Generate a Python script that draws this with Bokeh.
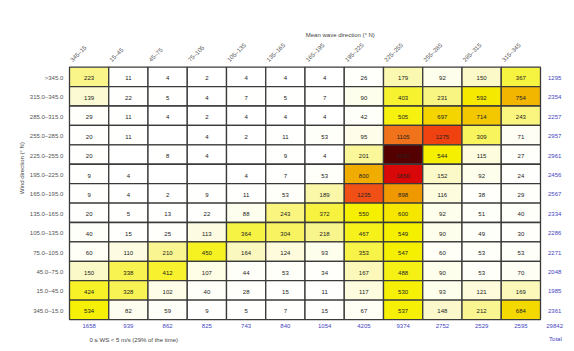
import numpy as np
from bokeh.plotting import figure
from bokeh.models import ColumnDataSource, Range1d, LinearColorMapper
from bokeh.transform import transform
from bokeh.core.properties import value
from bokeh.embed import file_html
from bokeh.resources import INLINE

# ---- data ----
wave_dirs = ["345\u201315", "15\u201345", "45\u201375", "75\u2013105", "105\u2013135", "135\u2013165",
             "165\u2013195", "195\u2013225", "225\u2013255", "255\u2013285", "285\u2013315", "315\u2013345"]
wind_dirs = [">345.0", "315.0\u2013345.0", "285.0\u2013315.0", "255.0\u2013285.0", "225.0\u2013255.0",
             "195.0\u2013225.0", "165.0\u2013195.0", "135.0\u2013165.0", "105.0\u2013135.0",
             "75.0\u2013105.0", "45.0\u201375.0", "15.0\u201345.0", "345.0\u201315.0"]

row_gt345 = [223, 11, 4, 2, 4, 4, 4, 26, 179, 92, 150, 367]
row_315_345 = [139, 22, 5, 4, 7, 5, 7, 90, 403, 231, 592, 754]
row_285_315 = [29, 11, 4, 2, 4, 4, 4, 42, 505, 697, 714, 243]
row_255_285 = [20, 11, None, 4, 2, 11, 53, 95, 1105, 1275, 309, 71]
row_225_255 = [20, None, 8, 4, None, 9, 4, 201, 2030, 544, 115, 27]
row_195_225 = [9, 4, None, None, 4, 7, 53, 800, 1650, 152, 92, 24]
row_165_195 = [9, 4, 2, 9, 11, 53, 189, 1235, 898, 116, 38, 29]
row_135_165 = [20, 5, 13, 22, 88, 243, 372, 550, 600, 92, 51, 40]
row_105_135 = [40, 15, 25, 113, 364, 304, 218, 467, 549, 90, 49, 30]
row_75_105 = [60, 110, 210, 450, 164, 124, 93, 353, 547, 60, 53, 53]
row_45_75 = [150, 338, 412, 107, 44, 53, 34, 167, 488, 90, 53, 70]
row_15_45 = [424, 328, 102, 40, 28, 15, 11, 117, 530, 93, 121, 169]
row_345_15 = [534, 82, 59, 9, 5, 7, 15, 67, 537, 148, 212, 684]

row_totals = [1295, 2354, 2257, 2957, 2961, 2456, 2567, 2334, 2286, 2271, 2048, 1985, 2361]
col_totals = [1658, 939, 862, 825, 743, 840, 1054, 4205, 9374, 2752, 2529, 2595]
grand_total = 29842

x_title = "Mean wave direction (\u00b0 N)"
y_title = "Wind direction (\u00b0 N)"
note = "0 \u2264 WS < 5 m/s (29% of the time)"

counts = [row_gt345, row_315_345, row_285_315, row_255_285, row_225_255, row_195_225,
          row_165_195, row_135_165, row_105_135, row_75_105, row_45_75, row_15_45, row_345_15]

# ---- colour scale ----
anchors = [0, 60, 100, 150, 220, 400, 550, 690, 740, 900, 1150, 1280, 1650, 1900, 2050]
anchor_cols = ["#FFFFFF", "#FFFFF8", "#FEFDE8", "#FBF9C8", "#F9F588", "#F7F230", "#F5F000",
               "#F4D800", "#F2B800", "#F09800", "#F06A20", "#F04010", "#D80808", "#A00000", "#4A0000"]

def hex2rgb(h):
    return [int(h[i:i + 2], 16) for i in (1, 3, 5)]

vals = np.linspace(0, 2050, 411)
rgb = np.array([hex2rgb(c) for c in anchor_cols], dtype=float)
palette = []
for v in vals:
    r = np.interp(v, anchors, rgb[:, 0])
    g = np.interp(v, anchors, rgb[:, 1])
    b = np.interp(v, anchors, rgb[:, 2])
    palette.append("#%02x%02x%02x" % (int(round(r)), int(round(g)), int(round(b))))
mapper = LinearColorMapper(palette=palette, low=0, high=2050, nan_color="#FFFFFF")

# ---- cell table ----
xs, ys, vs, ts = [], [], [], []
for r, row in enumerate(counts):
    for c, v in enumerate(row):
        xs.append(c + 0.5)
        ys.append(r + 0.5)
        vs.append(np.nan if v is None else v)
        ts.append("" if v is None else str(v))
cells = ColumnDataSource(dict(x=xs, y=ys, v=vs, t=ts, ty=[y + 0.08 for y in ys]))

ncol = len(wave_dirs)
nrow = len(wind_dirs)

W, H = 574, 351
colw, rowh = 39.25, 19.41
gx0, gy0 = 69.0, 66.7

p = figure(width=W, height=H, output_backend="svg", toolbar_location=None,
           x_range=Range1d(-gx0 / colw, (W - gx0) / colw),
           y_range=Range1d((H - gy0) / rowh, -gy0 / rowh),
           min_border=0, outline_line_color=None)
p.axis.visible = False
p.grid.visible = False
p.background_fill_color = "white"
p.border_fill_color = "white"

FONT = value("Liberation Sans")
FS = "6px"

p.rect(x="x", y="y", width=1, height=1, source=cells,
       fill_color=transform("v", mapper), line_color="#3a3a3a", line_width=1.3)
p.text(x="x", y="ty", text="t", source=cells, text_font=FONT, text_font_size=FS,
       text_align="center", text_baseline="middle", text_color="#222222")

# row labels
p.text(x=[-0.16] * nrow, y=[r + 0.55 for r in range(nrow)], text=wind_dirs, text_font=FONT,
       text_font_size=FS, text_align="right", text_baseline="middle", text_color="#555555")
# column labels
p.text(x=[c + 0.1 for c in range(ncol)], y=[-0.22] * ncol, text=wave_dirs, text_font=FONT,
       text_font_size=FS, text_align="left", text_baseline="bottom", angle=np.pi / 4,
       text_color="#555555")
# row totals
p.text(x=[ncol + 0.36] * nrow, y=[r + 0.55 for r in range(nrow)], text=[str(t) for t in row_totals],
       text_font=FONT, text_font_size=FS, text_align="center", text_baseline="middle",
       text_color="#4545C0")
# column totals
p.text(x=[c + 0.5 for c in range(ncol)] + [ncol + 0.36], y=[nrow + 0.31] * (ncol + 1),
       text=[str(t) for t in col_totals] + [str(grand_total)], text_font=FONT,
       text_font_size=FS, text_align="center", text_baseline="middle", text_color="#4545C0")
p.text(x=[ncol + 0.38], y=[nrow + 1.0], text=["Total"], text_font=FONT, text_font_size=FS,
       text_align="center", text_baseline="middle", text_color="#4545C0")
# titles
p.text(x=[6.9], y=[-1.68], text=[x_title], text_font=FONT, text_font_size=FS,
       text_align="center", text_baseline="middle", text_color="#444444")
p.text(x=[-1.22], y=[5.2], text=[y_title], text_font=FONT, text_font_size=FS,
       text_align="center", text_baseline="middle", angle=np.pi / 2, text_color="#444444")
p.text(x=[0.51], y=[nrow + 1.08], text=[note], text_font=FONT, text_font_size=FS,
       text_align="left", text_baseline="middle", text_color="#444444")

open("out.html", "w").write(file_html(p, INLINE))
